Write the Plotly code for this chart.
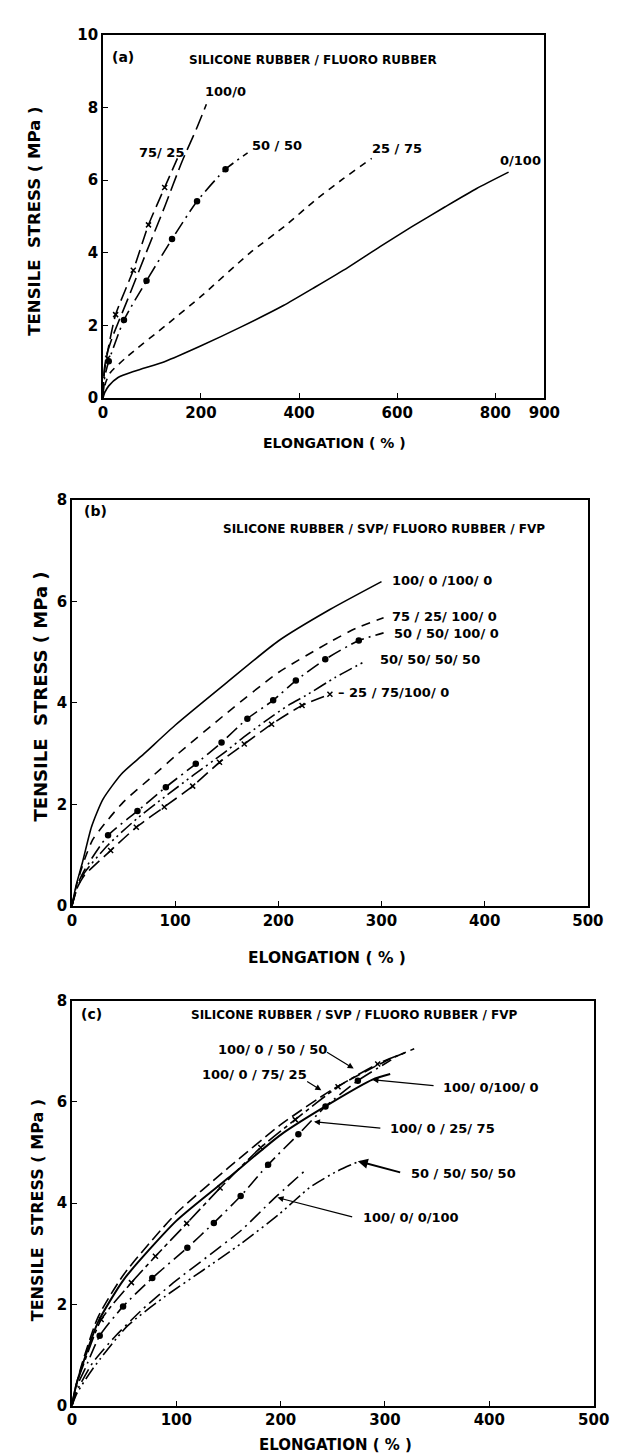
import plotly.graph_objects as go

# ---------------- DATA ----------------
# Panel (a): Silicone rubber / Fluoro rubber
a_x_0_100 = [0, 4, 12, 31, 66, 128, 198, 283, 368, 433, 500, 565, 630, 697, 762, 827]
a_y_0_100 = [0, 0.16, 0.34, 0.57, 0.75, 1.02, 1.43, 1.97, 2.55, 3.06, 3.60, 4.17, 4.72, 5.26, 5.77, 6.22]
a_x_25_75 = [0, 5, 15, 50, 128, 200, 300, 374, 433, 490, 548]
a_y_25_75 = [0, 0.4, 0.7, 1.15, 2.0, 2.8, 4.0, 4.77, 5.45, 6.04, 6.6]
a_x_50_50 = [0, 4, 12, 43, 89, 141, 192, 250, 295]
a_y_50_50 = [0, 0.6, 1.02, 2.15, 3.23, 4.38, 5.42, 6.30, 6.75]
a_mx_50_50 = [12, 43, 89, 141, 192, 250]
a_my_50_50 = [1.02, 2.15, 3.23, 4.38, 5.42, 6.30]
a_x_75_25 = [0, 3, 10, 26, 62, 93, 126, 152]
a_y_75_25 = [0, 0.7, 1.3, 2.3, 3.52, 4.77, 5.80, 6.6]
a_mx_75_25 = [10, 26, 62, 93, 126]
a_my_75_25 = [1.1, 2.3, 3.52, 4.77, 5.80]
a_x_100_0 = [0, 3, 8, 20, 50, 87, 126, 161, 191, 211]
a_y_100_0 = [0, 0.8, 1.2, 1.7, 2.7, 3.96, 5.27, 6.5, 7.42, 8.09]

a_xticks = [0, 200, 400, 600, 800, 900]
a_yticks = [0, 2, 4, 6, 8, 10]

# Panel (b): Silicone rubber / SVP / Fluoro rubber / FVP
b_x_s1 = [0, 4, 10, 19, 30, 48, 70, 100, 150, 200, 250, 300]
b_y_s1 = [0, 0.4, 0.84, 1.56, 2.1, 2.6, 3.0, 3.56, 4.4, 5.22, 5.84, 6.39]
b_x_s2 = [0, 5, 12, 20, 35, 50, 75, 100, 150, 200, 250, 275, 302]
b_y_s2 = [0, 0.45, 0.9, 1.3, 1.7, 2.05, 2.5, 2.95, 3.8, 4.6, 5.2, 5.47, 5.68]
b_x_s3 = [0, 5, 12, 35, 63.5, 91, 120, 145, 170, 195, 217, 245.5, 278, 302]
b_y_s3 = [0, 0.4, 0.7, 1.39, 1.87, 2.34, 2.80, 3.22, 3.69, 4.05, 4.44, 4.86, 5.23, 5.38]
b_mx_s3 = [35, 63.5, 91, 120, 145, 170, 195, 217, 245.5, 278]
b_my_s3 = [1.39, 1.87, 2.34, 2.80, 3.22, 3.69, 4.05, 4.44, 4.86, 5.23]
b_x_s4 = [0, 5, 12, 35, 63, 90, 118, 145, 170, 195, 211, 227, 255, 285]
b_y_s4 = [0, 0.35, 0.65, 1.2, 1.72, 2.15, 2.58, 2.98, 3.38, 3.75, 3.97, 4.15, 4.5, 4.83]
b_x_s5 = [0, 5, 12, 37.5, 62.4, 89.5, 117, 143, 167, 193.5, 223, 250]
b_y_s5 = [0, 0.35, 0.6, 1.09, 1.55, 1.95, 2.36, 2.83, 3.19, 3.58, 3.95, 4.17]
b_mx_s5 = [37.5, 62.4, 89.5, 117, 143, 167, 193.5, 223, 250]
b_my_s5 = [1.09, 1.55, 1.95, 2.36, 2.83, 3.19, 3.58, 3.95, 4.17]

bc_xticks = [0, 100, 200, 300, 400, 500]
bc_yticks = [0, 2, 4, 6, 8]

# Panel (c)
c_x_5050 = [0, 4, 10, 25, 50, 100, 150, 200, 250, 300, 328]
c_y_5050 = [0, 0.4, 0.85, 1.75, 2.6, 3.8, 4.7, 5.55, 6.25, 6.8, 7.05]
c_x_7525 = [0, 4, 10, 28, 57, 80, 110, 142, 181, 214, 255, 293, 319]
c_y_7525 = [0, 0.4, 0.75, 1.70, 2.43, 2.95, 3.6, 4.3, 5.1, 5.65, 6.3, 6.75, 6.97]
c_mx_7525 = [28, 57, 80, 110, 142, 181, 214, 255, 293]
c_my_7525 = [1.70, 2.43, 2.95, 3.6, 4.3, 5.1, 5.65, 6.3, 6.75]
c_x_1000 = [0, 4, 10, 25, 50, 100, 150, 200, 250, 288, 305]
c_y_1000 = [0, 0.4, 0.8, 1.65, 2.5, 3.65, 4.5, 5.35, 6.0, 6.44, 6.55]
c_x_2575 = [0, 5, 12, 26.6, 49, 77, 110.6, 136, 161.7, 188, 217, 243, 274, 306]
c_y_2575 = [0, 0.4, 0.7, 1.38, 1.96, 2.52, 3.12, 3.61, 4.14, 4.76, 5.36, 5.91, 6.42, 6.83]
c_mx_2575 = [26.6, 49, 77, 110.6, 136, 161.7, 188, 217, 243, 274]
c_my_2575 = [1.38, 1.96, 2.52, 3.12, 3.61, 4.14, 4.76, 5.36, 5.91, 6.42]
c_x_0100 = [0, 5, 20, 42, 67.5, 96.7, 129.6, 162, 191.6, 222.6]
c_y_0100 = [0, 0.3, 0.85, 1.38, 1.90, 2.42, 2.94, 3.46, 4.05, 4.63]
c_x_s5050 = [0, 5, 20, 53, 89.4, 126, 162, 199, 228, 254, 275.5]
c_y_s5050 = [0, 0.25, 0.73, 1.57, 2.16, 2.68, 3.2, 3.79, 4.31, 4.63, 4.83]

# ---------------- FIGURE ----------------
W, H = 621, 1456
FONT = "DejaVu Sans"
fig = go.Figure()

def add_line(x, y, xa, ya, dash, width=1.6):
    fig.add_trace(go.Scatter(x=x, y=y, mode="lines", xaxis=xa, yaxis=ya,
                             line=dict(color="black", width=width, dash=dash, shape="spline", smoothing=0.6),
                             showlegend=False, hoverinfo="skip"))

def add_marks(x, y, xa, ya, symbol, size):
    fig.add_trace(go.Scatter(x=x, y=y, mode="markers", xaxis=xa, yaxis=ya,
                             marker=dict(color="black", symbol=symbol, size=size,
                                         line=dict(color="black", width=1.5)),
                             showlegend=False, hoverinfo="skip"))

# panel a
add_line(a_x_0_100, a_y_0_100, "x", "y", "solid")
add_line(a_x_25_75, a_y_25_75, "x", "y", "7px,6px")
add_line(a_x_50_50, a_y_50_50, "x", "y", "14px,5px,2px,5px")
add_marks(a_mx_50_50, a_my_50_50, "x", "y", "circle", 5)
add_line(a_x_75_25, a_y_75_25, "x", "y", "14px,6px")
add_marks(a_mx_75_25, a_my_75_25, "x", "y", "x-thin", 5)
add_line(a_x_100_0, a_y_100_0, "x", "y", "16px,6px")

# panel b
add_line(b_x_s1, b_y_s1, "x2", "y2", "solid")
add_line(b_x_s2, b_y_s2, "x2", "y2", "9px,7px")
add_line(b_x_s3, b_y_s3, "x2", "y2", "14px,5px,2px,5px")
add_marks(b_mx_s3, b_my_s3, "x2", "y2", "circle", 5)
add_line(b_x_s4, b_y_s4, "x2", "y2", "14px,4px,2px,4px,2px,4px")
add_line(b_x_s5, b_y_s5, "x2", "y2", "14px,6px")
add_marks(b_mx_s5, b_my_s5, "x2", "y2", "x-thin", 5)

# panel c
add_line(c_x_5050, c_y_5050, "x3", "y3", "12px,5px")
add_line(c_x_7525, c_y_7525, "x3", "y3", "16px,4px,4px,4px")
add_marks(c_mx_7525, c_my_7525, "x3", "y3", "x-thin", 5)
add_line(c_x_1000, c_y_1000, "x3", "y3", "solid", 2)
add_line(c_x_2575, c_y_2575, "x3", "y3", "14px,5px,2px,5px")
add_marks(c_mx_2575, c_my_2575, "x3", "y3", "circle", 5)
add_line(c_x_0100, c_y_0100, "x3", "y3", "14px,5px,2px,5px")
add_line(c_x_s5050, c_y_s5050, "x3", "y3", "14px,4px,2px,4px,2px,4px")

def dom_x(l, r):
    return [l / W, r / W]

def dom_y(t, b):
    return [1 - b / H, 1 - t / H]

tickfont = dict(family=FONT, size=15, color="black", weight="bold")
axis_common = dict(showline=True, linecolor="black", linewidth=1.5, mirror=True,
                   ticks="inside", ticklen=5, tickwidth=1.2, tickcolor="black",
                   showgrid=False, zeroline=False, tickfont=tickfont, fixedrange=True)

fig.update_layout(
    width=W, height=H, margin=dict(l=0, r=0, t=0, b=0),
    paper_bgcolor="white", plot_bgcolor="white",
    xaxis=dict(domain=dom_x(93, 550), range=[0, 900], tickvals=a_xticks, anchor="y", **axis_common),
    yaxis=dict(domain=dom_y(18, 386), range=[0, 10], tickvals=a_yticks, anchor="x", **axis_common),
    xaxis2=dict(domain=dom_x(61, 595), range=[0, 500], tickvals=bc_xticks, anchor="y2", **axis_common),
    yaxis2=dict(domain=dom_y(489, 900), range=[0, 8], tickvals=bc_yticks, anchor="x2", **axis_common),
    xaxis3=dict(domain=dom_x(61, 601), range=[0, 500], tickvals=bc_xticks, anchor="y3", **axis_common),
    yaxis3=dict(domain=dom_y(996, 1406), range=[0, 8], tickvals=bc_yticks, anchor="x3", **axis_common),
)

ann = []
def txt(text, x, y, xref, yref, size=13, anchor="left", weight="bold"):
    ann.append(dict(text=text, x=x, y=y, xref=xref, yref=yref, showarrow=False,
                    xanchor=anchor, yanchor="middle",
                    font=dict(family=FONT, size=size, color="black", weight=weight)))

def arrow(x, y, ax, ay, xref, yref, width=1.2):
    ann.append(dict(text="", x=x, y=y, ax=ax, ay=ay, xref=xref, yref=yref,
                    axref=xref, ayref=yref, showarrow=True, arrowhead=2,
                    arrowsize=1, arrowwidth=width, arrowcolor="black"))

# axis titles
def ytitle(px, py, size):
    ann.append(dict(text="TENSILE  STRESS ( MPa )", x=px / W, y=1 - py / H, xref="paper", yref="paper",
                    showarrow=False, textangle=-90, xanchor="center", yanchor="middle",
                    font=dict(family=FONT, size=size, color="black", weight="bold")))

def xtitle(px, py, size):
    ann.append(dict(text="ELONGATION ( % )", x=px / W, y=1 - py / H, xref="paper", yref="paper",
                    showarrow=False, xanchor="center", yanchor="middle",
                    font=dict(family=FONT, size=size, color="black", weight="bold")))

ytitle(22, 207, 16.5)
xtitle(333, 431, 14)
ytitle(28, 688, 18)
xtitle(325, 953, 15.5)
ytitle(25, 1208, 16)
xtitle(334, 1446, 15)

# panel a texts
txt("(a)", 14, 9.38, "x", "y", 14)
txt("SILICONE RUBBER / FLUORO RUBBER", 429, 9.3, "x", "y", 12, "center")
txt("100/0", 205, 8.45, "x", "y", 13)
txt("75/ 25", 70, 6.76, "x", "y", 13)
txt("50 / 50", 300, 6.94, "x", "y", 13)
txt("25 / 75", 545, 6.86, "x", "y", 13)
txt("0/100", 805, 6.55, "x", "y", 13)

# panel b texts
txt("(b)", 10, 7.78, "x2", "y2", 14)
txt("SILICONE RUBBER / SVP/ FLUORO RUBBER / FVP", 302, 7.43, "x2", "y2", 12, "center")
txt("100/ 0 /100/ 0", 308, 6.42, "x2", "y2", 13)
txt("75 / 25/ 100/ 0", 308, 5.71, "x2", "y2", 13)
txt("50 / 50/ 100/ 0", 310, 5.37, "x2", "y2", 13)
txt("50/ 50/ 50/ 50", 297, 4.86, "x2", "y2", 13)
txt("– 25 / 75/100/ 0", 256, 4.2, "x2", "y2", 13)

# panel c texts
txt("(c)", 7, 7.74, "x3", "y3", 14)
txt("SILICONE RUBBER / SVP / FLUORO RUBBER / FVP", 270, 7.72, "x3", "y3", 12, "center")
txt("100/ 0 / 50 / 50", 138, 7.04, "x3", "y3", 13)
txt("100/ 0 / 75/ 25", 123, 6.55, "x3", "y3", 13)
txt("100/ 0/100/ 0", 354, 6.29, "x3", "y3", 13)
txt("100/ 0 / 25/ 75", 303, 5.48, "x3", "y3", 13)
txt("50 / 50/ 50/ 50", 323, 4.58, "x3", "y3", 13)
txt("100/ 0/ 0/100", 277, 3.72, "x3", "y3", 13)

arrow(270, 6.66, 243, 7.0, "x3", "y3")
arrow(239, 6.23, 224, 6.42, "x3", "y3")
arrow(288, 6.44, 348, 6.32, "x3", "y3")
arrow(232, 5.61, 297, 5.48, "x3", "y3")
arrow(274, 4.83, 316, 4.6, "x3", "y3", width=2)
arrow(197, 4.11, 270, 3.72, "x3", "y3")

fig.update_layout(annotations=ann)
fig.write_html("out.html")
